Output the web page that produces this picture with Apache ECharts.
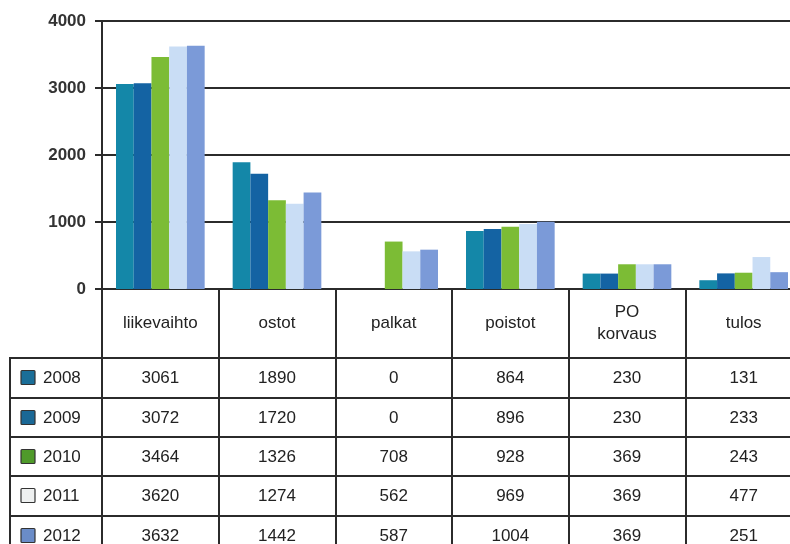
<!DOCTYPE html>
<html>
<head>
<meta charset="utf-8">
<script src="https://cdn.jsdelivr.net/npm/echarts@6/dist/echarts.min.js"></script>
<style>
html,body{margin:0;padding:0;background:#fff;}
#chart{width:790px;height:544px;}
</style>
</head>
<body>
<div id="chart"></div>
<script>
const categories = ['liikevaihto', 'ostot', 'palkat', 'poistot', 'PO\nkorvaus', 'tulos'];
const years = ['2008', '2009', '2010', '2011', '2012'];
const v2008 = [3061, 1890, 0, 864, 230, 131];
const v2009 = [3072, 1720, 0, 896, 230, 233];
const v2010 = [3464, 1326, 708, 928, 369, 243];
const v2011 = [3620, 1274, 562, 969, 369, 477];
const v2012 = [3632, 1442, 587, 1004, 369, 251];
const yTicks = [0, 1000, 2000, 3000, 4000];

const seriesValues = [v2008, v2009, v2010, v2011, v2012];
const barColors = ['#1487a8', '#1463a3', '#7cbc35', '#c9ddf5', '#7b9ad8'];
const boxColors = ['#1a6e98', '#1a6896', '#4f9a2a', '#eef0f0', '#6a8cc8'];
const FONT = '"Liberation Sans", Arial, sans-serif';
const LINE = '#2b2b2b';
const TEXT = '#222';

const chart = echarts.init(document.getElementById('chart'), null, {renderer: 'canvas'});

const option = {
  animation: false,
  backgroundColor: '#fff',
  grid: {left: 102, width: 700, top: 21, bottom: 255, containLabel: false, outerBoundsMode: 'none'},
  xAxis: {
    type: 'category',
    data: categories,
    boundaryGap: true,
    axisLine: {show: true, lineStyle: {color: LINE, width: 2}},
    axisTick: {show: true, alignWithLabel: false, length: 262, lineStyle: {color: LINE, width: 2}},
    axisLabel: {
      interval: 0, margin: 34, verticalAlign: 'middle',
      fontFamily: FONT, fontSize: 17, color: TEXT, lineHeight: 22
    },
    splitLine: {show: false}
  },
  yAxis: {
    type: 'value',
    min: yTicks[0], max: yTicks[yTicks.length - 1], interval: 1000,
    axisLine: {show: true, lineStyle: {color: LINE, width: 2}},
    axisTick: {show: true, length: 7, lineStyle: {color: LINE, width: 2}},
    axisLabel: {margin: 16, fontFamily: FONT, fontSize: 17, fontWeight: 'bold', color: '#333',
      formatter: v => String(v)},
    splitLine: {show: true, lineStyle: {color: LINE, width: 2}}
  },
  series: years.map((y, i) => ({
    name: y,
    type: 'bar',
    data: seriesValues[i],
    barGap: '0%',
    barCategoryGap: '24%',
    itemStyle: {color: barColors[i]}
  }))
};
chart.setOption(option);

// Data table below the axis
const rowLines = [358, 398, 437, 476, 516];
const rowH = 39;
const graphics = [];
rowLines.forEach(y => {
  graphics.push({type: 'line', shape: {x1: 10, y1: y, x2: 790, y2: y},
    style: {stroke: LINE, lineWidth: 2}, z: 10});
});
graphics.push({type: 'line', shape: {x1: 10, y1: 357, x2: 10, y2: 544},
  style: {stroke: LINE, lineWidth: 2}, z: 10});

years.forEach((y, r) => {
  const cy = rowLines[r] + rowH / 2 + 1;
  graphics.push({type: 'rect', shape: {x: 21, y: cy - 8, width: 14, height: 14, r: 1},
    style: {fill: boxColors[r], stroke: '#333', lineWidth: 1.2}, z: 11});
  graphics.push({type: 'text', x: 43, y: cy,
    style: {text: y, fontFamily: FONT, fontSize: 17, fill: TEXT,
      textVerticalAlign: 'middle', verticalAlign: 'middle', textAlign: 'left', align: 'left'}, z: 11});
  seriesValues[r].forEach((v, c) => {
    const cx = chart.convertToPixel({xAxisIndex: 0}, c);
    graphics.push({type: 'text', x: cx, y: cy,
      style: {text: String(v), fontFamily: FONT, fontSize: 17, fill: TEXT,
        textAlign: 'center', align: 'center', textVerticalAlign: 'middle', verticalAlign: 'middle'}, z: 11});
  });
});
chart.setOption({graphic: graphics});
</script>
</body>
</html>
